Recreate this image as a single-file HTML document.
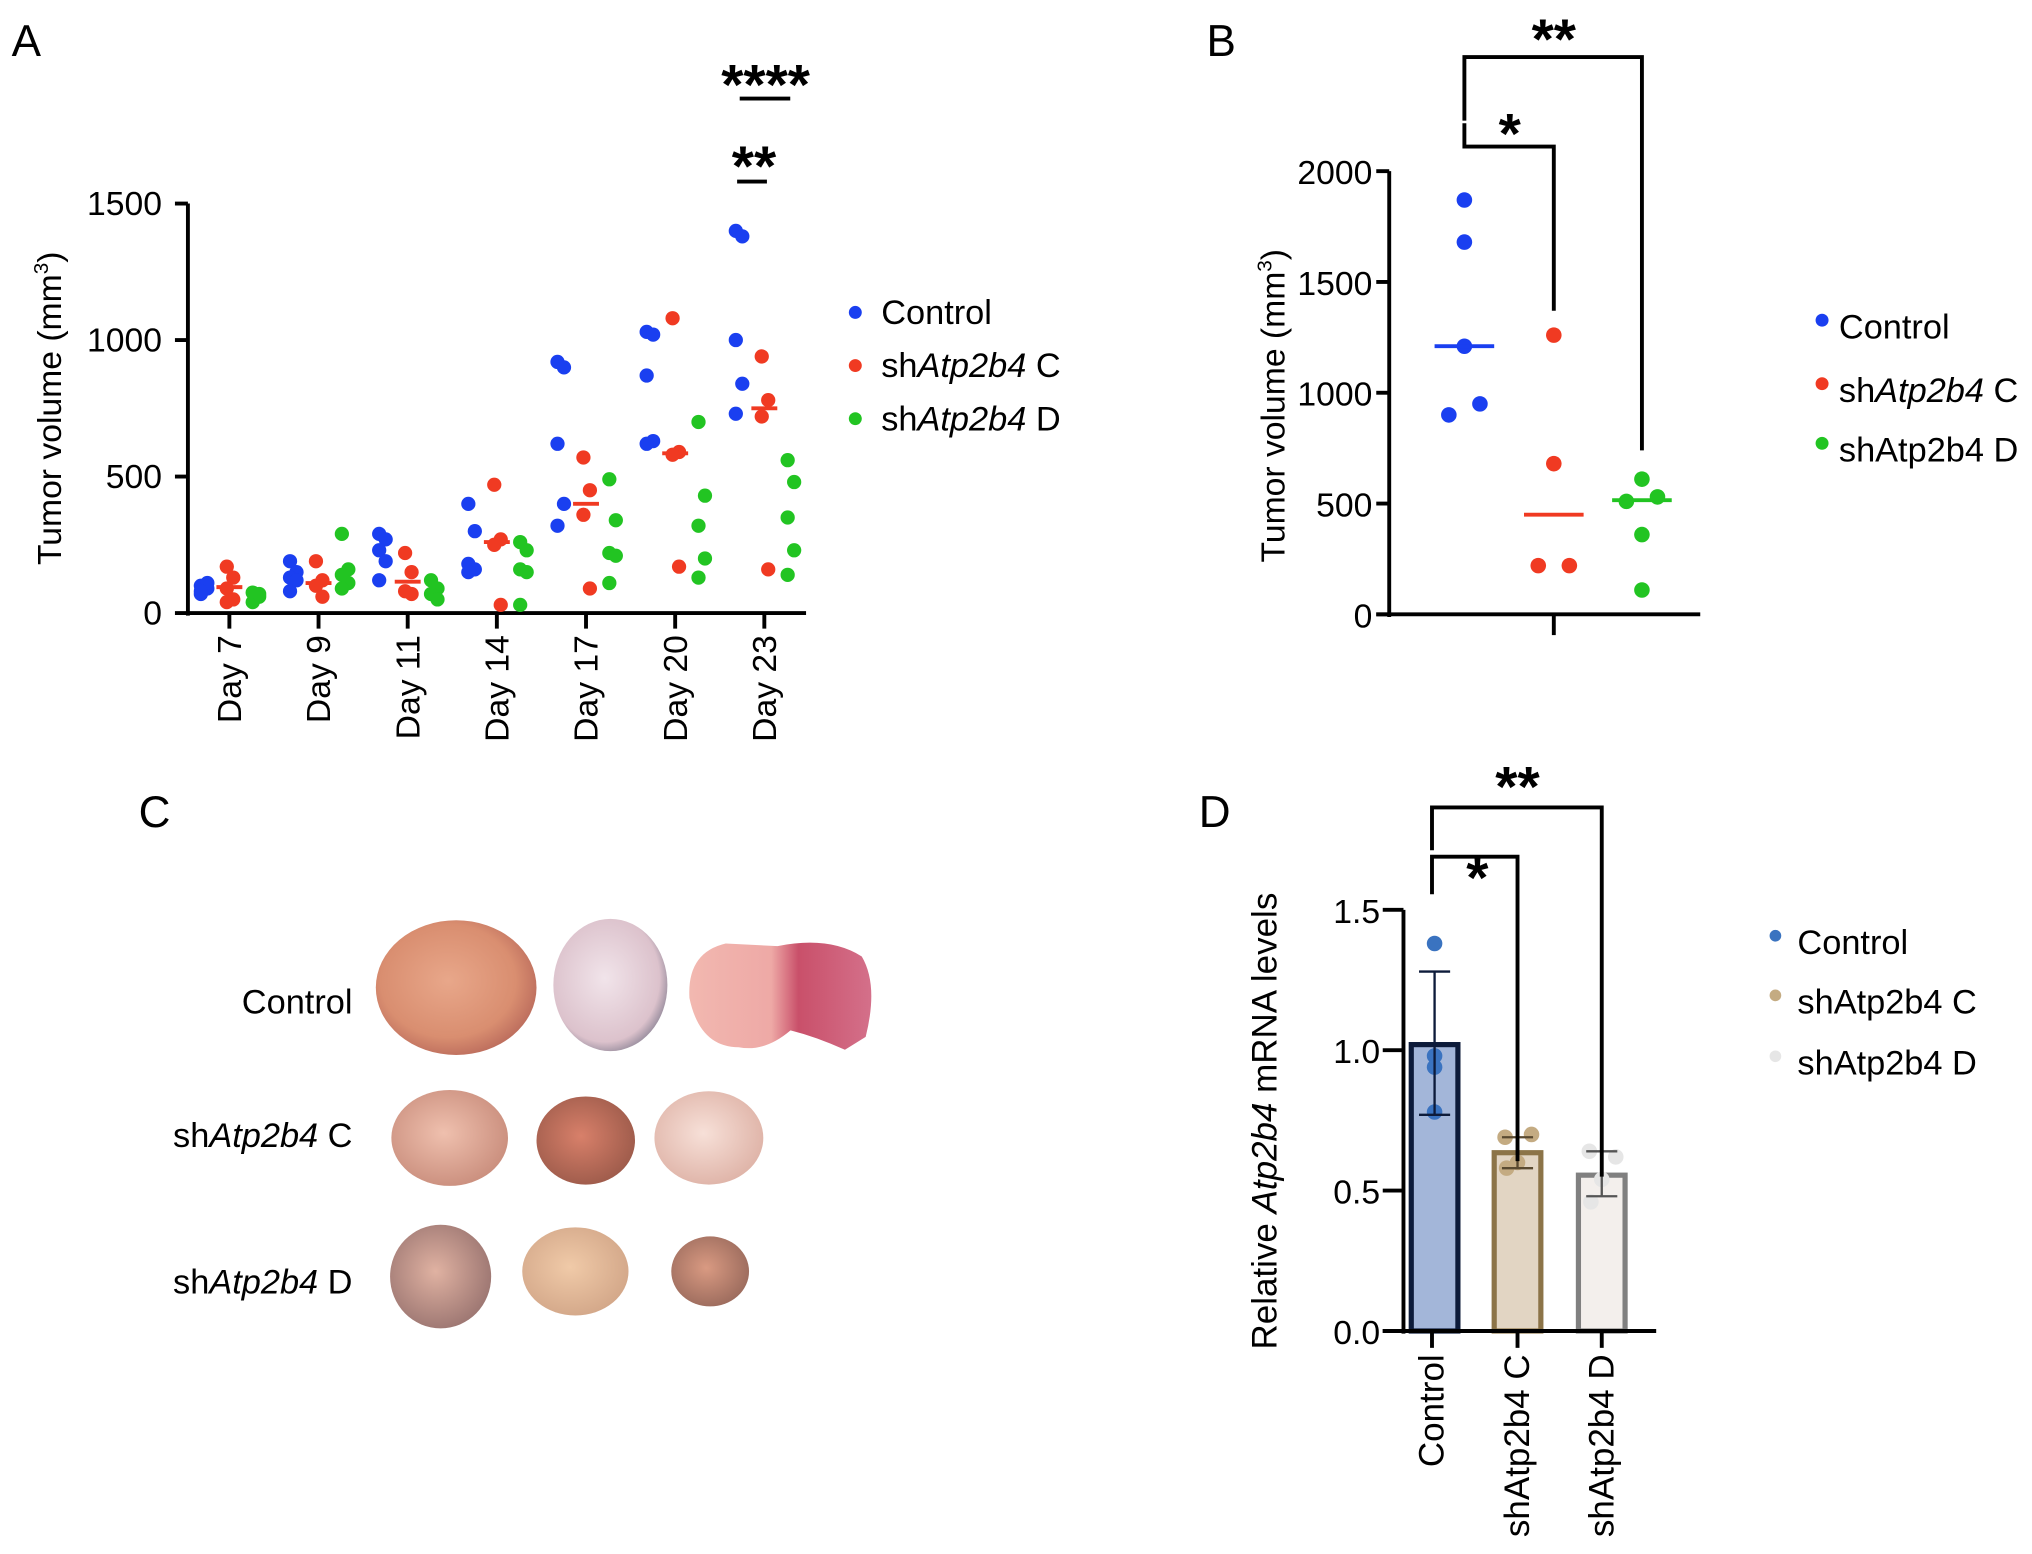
<!DOCTYPE html>
<html><head><meta charset="utf-8"><style>
html,body{margin:0;padding:0;background:#fff;}
svg{display:block;font-family:"Liberation Sans",Arial,sans-serif;}
</style></head><body>
<svg id="fig" width="2032" height="1554" viewBox="0 0 1568 1199" xmlns="http://www.w3.org/2000/svg">
<defs>
<radialGradient id="g1" cx="45%" cy="45%" r="60%"><stop offset="0" stop-color="#e8a78a"/><stop offset="0.7" stop-color="#d98e70"/><stop offset="1" stop-color="#b8685a"/></radialGradient>
<radialGradient id="g2" cx="45%" cy="45%" r="60%"><stop offset="0" stop-color="#f1e4ea"/><stop offset="0.8" stop-color="#dcc2cc"/><stop offset="1" stop-color="#8a8294"/></radialGradient>
<linearGradient id="g3" x1="0" x2="1"><stop offset="0" stop-color="#f2b8b0"/><stop offset="0.45" stop-color="#eea9a6"/><stop offset="0.6" stop-color="#c9506a"/><stop offset="1" stop-color="#d4708a"/></linearGradient>
<radialGradient id="g4" cx="45%" cy="45%" r="60%"><stop offset="0" stop-color="#efc0ae"/><stop offset="1" stop-color="#c98d7c"/></radialGradient>
<radialGradient id="g5" cx="45%" cy="45%" r="60%"><stop offset="0" stop-color="#d8806a"/><stop offset="1" stop-color="#9c5a4a"/></radialGradient>
<radialGradient id="g6" cx="45%" cy="45%" r="60%"><stop offset="0" stop-color="#f7e0d8"/><stop offset="1" stop-color="#deb2a6"/></radialGradient>
<radialGradient id="g7" cx="45%" cy="45%" r="60%"><stop offset="0" stop-color="#e0b2a2"/><stop offset="1" stop-color="#9a7470"/></radialGradient>
<radialGradient id="g8" cx="45%" cy="45%" r="60%"><stop offset="0" stop-color="#f0caa8"/><stop offset="1" stop-color="#d2a688"/></radialGradient>
<radialGradient id="g9" cx="45%" cy="45%" r="60%"><stop offset="0" stop-color="#d99a82"/><stop offset="1" stop-color="#9a6a5c"/></radialGradient>
</defs>
<g id="pa"></g>
<g id="pb"></g>
<g id="pc">
<text x="9" y="43" font-size="34">A</text>
<text x="931" y="43" font-size="34">B</text>
<text x="107" y="638" font-size="34">C</text>
<text x="925" y="638" font-size="34">D</text>
<text x="272" y="782" font-size="26.5" text-anchor="end">Control</text>
<text x="272" y="885" font-size="26.5" text-anchor="end">sh<tspan font-style="italic">Atp2b4</tspan> C</text>
<text x="272" y="998" font-size="26.5" text-anchor="end">sh<tspan font-style="italic">Atp2b4</tspan> D</text>
<ellipse cx="352" cy="762" rx="62" ry="52" fill="url(#g1)"/>
<ellipse cx="471" cy="760" rx="44" ry="51" fill="url(#g2)"/>
<path d="M532 770 Q530 735 560 728 L600 730 Q640 722 665 738 Q678 760 668 800 L652 810 Q630 800 610 795 Q590 812 570 808 Q540 808 532 770Z" fill="url(#g3)"/>
<ellipse cx="347" cy="878" rx="45" ry="37" fill="url(#g4)"/>
<ellipse cx="452" cy="880" rx="38" ry="34" fill="url(#g5)"/>
<ellipse cx="547" cy="878" rx="42" ry="36" fill="url(#g6)"/>
<ellipse cx="340" cy="985" rx="39" ry="40" fill="url(#g7)"/>
<ellipse cx="444" cy="981" rx="41" ry="34" fill="url(#g8)"/>
<ellipse cx="548" cy="981" rx="30" ry="27" fill="url(#g9)"/>
</g>
<g id="pd"></g>
</svg>
<script>
// ---------- Panel A data ----------
const daysA = ["Day 7","Day 9","Day 11","Day 14","Day 17","Day 20","Day 23"];
const controlA = [[100,90,70,110,80],[190,150,130,120,80],[290,270,230,190,120],[400,300,180,160,150],[920,900,620,400,320],[1030,1020,870,630,620],[1400,1380,1000,840,730]];
const shCA = [[170,130,90,50,40],[190,120,100,60],[220,150,80,70],[470,270,250,30],[570,450,360,90],[1080,590,580,170],[940,780,720,160]];
const shDA = [[75,60,40,70],[290,160,140,110,90],[120,90,70,50],[260,230,160,150,30],[490,340,220,210,110],[700,430,320,200,130],[560,480,350,230,140]];
const medianCA = [95,110,115,260,400,585,750];
const yTicksA = [0,500,1000,1500];
// ---------- Panel B data ----------
const controlB = [1870,1680,1210,950,900];
const shCB = [1260,680,220,220];
const shDB = [610,530,510,360,110];
const mediansB = [1210,450,515];
const yTicksB = [0,500,1000,1500,2000];
// ---------- Panel D data ----------
const groupsD = ["Control","shAtp2b4 C","shAtp2b4 D"];
const meansD = [1.02,0.635,0.555];
const errLowD = [0.77,0.58,0.48];
const errHighD = [1.28,0.69,0.64];
const pointsD = [[1.38,0.98,0.94,0.78],[0.69,0.70,0.60,0.58],[0.64,0.62,0.54,0.46]];
const yTicksD = [0.0,0.5,1.0,1.5];

const NS="http://www.w3.org/2000/svg";
function mk(parent,tag,attrs,text){const e=document.createElementNS(NS,tag);for(const k in attrs)e.setAttribute(k,attrs[k]);if(text!==undefined)e.textContent=text;parent.appendChild(e);return e;}
const BLUE="#1a3ff0",RED="#f03a22",GREEN="#22c422";
const TF=26, LF=26.5, SF=44;

// ===== Panel A =====
(function(){
const g=document.getElementById('pa');
const x0=145,x1=622,y0=473,y1500=157;
const yA=v=>y0-(v/1500)*(y0-y1500);
const dayX=i=>177+i*68.8;
let e=mk(g,'line',{x1:x0,y1:y1500,x2:x0,y2:y0+2,stroke:'#000','stroke-width':3});

e=mk(g,'line',{x1:x0-1,y1:y0,x2:x1,y2:y0,stroke:'#000','stroke-width':3});

yTicksA.forEach(t=>{
  let l=mk(g,'line',{x1:x0-10,y1:yA(t),x2:x0,y2:yA(t),stroke:'#000','stroke-width':3});
  
  let tx=mk(g,'text',{x:x0-20,y:yA(t)+9,'font-size':TF,'text-anchor':'end'},String(t));
  
});
daysA.forEach((d,i)=>{
  const x=dayX(i);
  let l=mk(g,'line',{x1:x,y1:y0,x2:x,y2:y0+12,stroke:'#000','stroke-width':3});
  
  let t=mk(g,'text',{x:0,y:0,'font-size':TF,'text-anchor':'end',transform:`translate(${x+9},${y0+17}) rotate(-90)`},d);
  
  const sets=[[controlA[i],-20,BLUE],[shCA[i],0,RED],[shDA[i],20,GREEN]];
  sets.forEach(([vals,off,col])=>{
    vals.forEach((v,j)=>{
      const c=mk(g,'circle',{cx:x+off+((j%2)?3:-2),cy:yA(v),r:5.5,fill:col});
      
    });
  });
  const m=mk(g,'line',{x1:x-10,y1:yA(medianCA[i]),x2:x+10,y2:yA(medianCA[i]),stroke:RED,'stroke-width':3});
  
});
let t=mk(g,'text',{x:0,y:0,'font-size':TF,'text-anchor':'middle',transform:'translate(47,315) rotate(-90)'});
t.innerHTML='Tumor volume (mm<tspan font-size="16" dy="-10">3</tspan><tspan dy="10">)</tspan>';

const sx=dayX(6);
e=mk(g,'line',{x1:sx-21,y1:140,x2:sx+2,y2:140,stroke:'#000','stroke-width':3});

e=mk(g,'text',{x:sx-8,y:143,'font-size':SF,'font-weight':'bold','text-anchor':'middle'},'**');

e=mk(g,'line',{x1:sx-19,y1:76,x2:sx+20,y2:76,stroke:'#000','stroke-width':3});

e=mk(g,'text',{x:sx+1,y:80,'font-size':SF,'font-weight':'bold','text-anchor':'middle'},'****');

const leg=[["Control",BLUE],["C",RED],["D",GREEN]];
leg.forEach(([n,c],i)=>{
  const y=241+i*41;
  let d=mk(g,'circle',{cx:660,cy:y,r:5,fill:c});
  
  let tx=mk(g,'text',{x:680,y:y+9,'font-size':LF});
  tx.innerHTML = n==="Control"?"Control":'sh<tspan font-style="italic">Atp2b4</tspan> '+n;
  
});
})();

// ===== Panel B =====
(function(){
const g=document.getElementById('pb');
const x0=1072,x1=1312,y0=474,y2000=132;
const yB=v=>y0-(v/2000)*(y0-y2000);
const gx=[1130,1199,1267];
let e=mk(g,'line',{x1:x0,y1:y2000,x2:x0,y2:y0+2,stroke:'#000','stroke-width':3});

e=mk(g,'line',{x1:x0-10,y1:y0,x2:x1,y2:y0,stroke:'#000','stroke-width':3});

e=mk(g,'line',{x1:1199,y1:y0,x2:1199,y2:y0+16,stroke:'#000','stroke-width':3});

yTicksB.forEach(t=>{
  let l=mk(g,'line',{x1:x0-10,y1:yB(t),x2:x0,y2:yB(t),stroke:'#000','stroke-width':3});
  
  let tx=mk(g,'text',{x:x0-13,y:yB(t)+10,'font-size':TF,'text-anchor':'end'},String(t));
  
});
const offs=[0,0,0,12,-12];
[[controlB,BLUE],[shCB,RED],[shDB,GREEN]].forEach(([vals,c],gi)=>{
  vals.forEach((v,j)=>{
    let o = gi===1 ? (j>=2?(j===2?-12:12):0) : (gi===2 ? [0,12,-12,0,0][j] : offs[j]);
    let p=mk(g,'circle',{cx:gx[gi]+o,cy:yB(v),r:6,fill:c});
    
  });
  let m=mk(g,'line',{x1:gx[gi]-23,y1:yB(mediansB[gi]),x2:gx[gi]+23,y2:yB(mediansB[gi]),stroke:c,'stroke-width':3});
  
});
let t=mk(g,'text',{x:0,y:0,'font-size':TF,'text-anchor':'middle',transform:'translate(991,313) rotate(-90)'});
t.innerHTML='Tumor volume (mm<tspan font-size="16" dy="-10">3</tspan><tspan dy="10">)</tspan>';

e=mk(g,'path',{d:`M${gx[0]} 95 V113 H${gx[1]} V${yB(1370)}`,fill:'none',stroke:'#000','stroke-width':3});

e=mk(g,'text',{x:1165,y:118,'font-size':SF,'font-weight':'bold','text-anchor':'middle'},'*');

e=mk(g,'path',{d:`M${gx[0]} 93 V44 H${gx[2]} V${yB(740)}`,fill:'none',stroke:'#000','stroke-width':3});

e=mk(g,'text',{x:1199,y:45,'font-size':SF,'font-weight':'bold','text-anchor':'middle'},'**');

const leg=[['Control',BLUE],['sh<tspan font-style="italic">Atp2b4</tspan> C',RED],['shAtp2b4 D',GREEN]];
leg.forEach(([n,c],i)=>{
  const y=[247,296,342][i];
  let d=mk(g,'circle',{cx:1406,cy:y,r:5,fill:c});
  
  let tx=mk(g,'text',{x:1419,y:y+14,'font-size':LF});tx.innerHTML=n;
  
});
})();

// ===== Panel D =====
(function(){
const g=document.getElementById('pd');
const x0=1083,x1=1278,y0=1027,y15=702;
const yD=v=>y0-(v/1.5)*(y0-y15);
const gx=[1107,1171,1236];
const fills=['#a3b6d9','#e2d5c3','#f3efec'],strokes=['#0d1b3a','#8c7448','#808080'],pts=['#3a73c0','#c4ab82','#e6e6e6'],errc=['#0d1b3a','#5a4a30','#555'];
meansD.forEach((m,i)=>{
  let b=mk(g,'rect',{x:gx[i]-18,y:yD(m),width:36,height:y0-yD(m),fill:fills[i],stroke:strokes[i],'stroke-width':4});
  
  pointsD[i].forEach((v,j)=>{
    let p=mk(g,'circle',{cx:gx[i]+(i===0?0:[-8,9,0,-7][j]*1.2),cy:yD(v),r:6,fill:pts[i]});
    
  });
  let eb=mk(g,'path',{d:`M${gx[i]} ${yD(errLowD[i])} V${yD(errHighD[i])} M${gx[i]-12} ${yD(errLowD[i])} h24 M${gx[i]-12} ${yD(errHighD[i])} h24`,stroke:errc[i],'stroke-width':1.8,fill:'none'});
  
});
let e=mk(g,'line',{x1:x0,y1:y15,x2:x0,y2:y0+2,stroke:'#000','stroke-width':3});

e=mk(g,'line',{x1:x0-16,y1:y0,x2:x1,y2:y0,stroke:'#000','stroke-width':3});

yTicksD.forEach(t=>{
  let l=mk(g,'line',{x1:x0-16,y1:yD(t),x2:x0,y2:yD(t),stroke:'#000','stroke-width':3});
  
  let tx=mk(g,'text',{x:x0-18,y:yD(t)+10,'font-size':TF,'text-anchor':'end'},t.toFixed(1));
  
});
groupsD.forEach((n,i)=>{
  const x=[1105,1171,1236][i];
  let l=mk(g,'line',{x1:x,y1:y0,x2:x,y2:y0+13,stroke:'#000','stroke-width':3});
  
  let t=mk(g,'text',{x:0,y:0,'font-size':27,'text-anchor':'end',transform:`translate(${x+9},${y0+18}) rotate(-90)`},n);
  
});
let t=mk(g,'text',{x:0,y:0,'font-size':27,'text-anchor':'middle',transform:'translate(985,865) rotate(-90)'});
t.innerHTML='Relative <tspan font-style="italic">Atp2b4</tspan> mRNA levels';

e=mk(g,'path',{d:`M1105 690 V661 H1171 V${yD(0.605)}`,fill:'none',stroke:'#000','stroke-width':3});

e=mk(g,'text',{x:1140,y:692,'font-size':SF,'font-weight':'bold','text-anchor':'middle'},'*');

e=mk(g,'path',{d:`M1105 656 V623 H1236 V${yD(0.55)}`,fill:'none',stroke:'#000','stroke-width':3});

e=mk(g,'text',{x:1171,y:622,'font-size':SF,'font-weight':'bold','text-anchor':'middle'},'**');

groupsD.forEach((n,i)=>{
  const y=[722,768,815][i];
  let d=mk(g,'circle',{cx:1370,cy:y,r:4.5,fill:pts[i]});
  
  let tx=mk(g,'text',{x:1387,y:y+14,'font-size':LF},n);
  
});
})();
</script>
</body></html>
